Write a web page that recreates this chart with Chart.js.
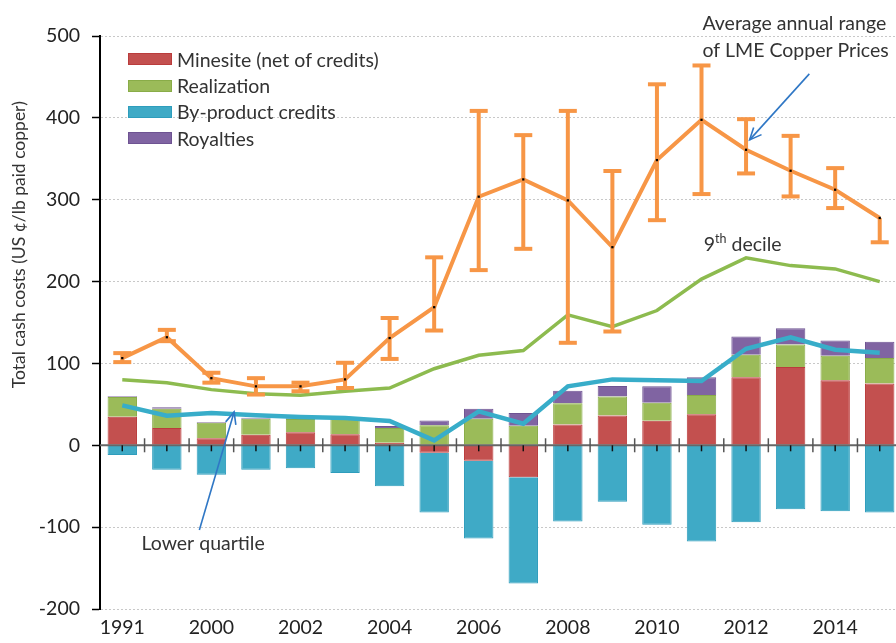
<!DOCTYPE html>
<html>
<head>
<meta charset="utf-8">
<script src="https://cdn.jsdelivr.net/npm/chart.js@4.4.1/dist/chart.umd.min.js"></script>
<style>
  html,body{margin:0;padding:0;background:#fff;overflow:hidden}
  #wrap{position:absolute;left:0;top:0;width:906px;height:643px}
  #legend{position:absolute;left:128px;top:46px;font:19.5px Lato, sans-serif;color:#333}
  #legend .row{height:26.4px;display:flex;align-items:center}
  #legend .box{display:inline-block;width:42px;height:10px;margin-right:5px;border:1px solid}
</style>
</head>
<body>
<div id="wrap"><canvas id="chart" width="906" height="643"></canvas></div>
<div id="legend"></div>
<script>
// categories (only every other one gets a label on the axis)
const years = ['1991','1995','2000','2001','2002','2003','2004','2005','2006','2007','2008','2009','2010','2011','2012','2013','2014','2015']

// stacked cost components, US c/lb
const minesite    = [35, 21, 8.5, 13, 16, 13.5, 3, -9, -19, -39, 25.5, 36.5, 30, 38, 83, 95.5, 79.5, 75.5]
const realization = [24, 23.5, 19, 19.5, 16, 19, 18, 24.5, 32.5, 24, 26, 23, 22, 23.5, 27.5, 27.5, 30, 31]
const byproduct   = [-12, -30, -36, -30, -28, -34, -50, -73, -95, -130, -93, -69, -97, -117.5, -94, -78, -80.5, -82]
const royalties   = [1, 2, 1, 1, 1, 0.8, 2.5, 5.7, 12, 15.5, 15, 13, 20, 21.5, 22.5, 20, 18.5, 20]

// cost curve lines
const lowerQuartile = [48.8, 36.2, 39.4, 36.6, 34.6, 33.4, 29.7, 6, 41.5, 26.4, 72, 80.5, 79.3, 78.5, 117.9, 132, 116.7, 113]
const ninthDecile   = [80, 76.4, 68, 63, 61, 66, 70, 93.5, 110, 115.8, 159.4, 145, 164.6, 203, 229, 219.5, 215.5, 200]

// LME copper price: annual average with range
const lmeAvg  = [106.5, 132, 82, 72, 72, 80.5, 131, 168.7, 303.7, 324.8, 299.2, 242, 348.4, 397.6, 361, 335.4, 312.2, 277.7]
const lmeHigh = [112.6, 141, 88.6, 82, 76.5, 100.8, 155.5, 229.6, 408.5, 378.9, 408.5, 335.1, 441, 464, 398.4, 378, 338.6, 277.7]
const lmeLow  = [101.6, 127.2, 76.5, 62, 66, 70, 105.5, 140.2, 214, 240, 125.2, 139, 275, 306.9, 332.1, 304, 289.8, 248]

// y axis
const yMin = -200, yMax = 500, yStep = 100

const FONT = 'Lato, sans-serif'
const orange = '#F79646'
const arrowBlue = '#2F77C5'

// notes, placed in data units (category index, value)
const notes = [
  {lines:['Average annual range','of LME Copper Prices'], x:13.02, y:[514.8, 481.8], arrow:{from:[15.42,453.7], to:[14.08,373.1]}},
  {sup:true, x:13.05, y:[244.7]},
  {lines:['Lower quartile'], x:0.43, y:[-120.5], arrow:{from:[1.73,-103.4], to:[2.51,40.7]}}
]

function drawArrow(ctx, x1, y1, x2, y2){
  ctx.beginPath(); ctx.moveTo(x1,y1); ctx.lineTo(x2,y2); ctx.stroke()
  const a = Math.atan2(y2-y1, x2-x1), len = 13, spread = 0.42
  ctx.beginPath()
  ctx.moveTo(x2 - len*Math.cos(a-spread), y2 - len*Math.sin(a-spread))
  ctx.lineTo(x2, y2)
  ctx.lineTo(x2 - len*Math.cos(a+spread), y2 - len*Math.sin(a+spread))
  ctx.stroke()
}

const extras = {
  id:'extras',
  // error bars go under the orange line and its markers
  beforeDatasetDraw(chart, args){
    if(args.index !== 0) return
    const {ctx, scales:{x,y}} = chart
    ctx.save()
    ctx.strokeStyle = orange
    ctx.lineWidth = 4
    lmeHigh.forEach((hi,i)=>{
      const px = x.getPixelForValue(i)
      const yh = y.getPixelForValue(hi), yl = y.getPixelForValue(lmeLow[i])
      ctx.beginPath(); ctx.moveTo(px, yh); ctx.lineTo(px, yl); ctx.stroke()
      const caps = hi > lmeAvg[i] ? [yh, yl] : [yl]
      caps.forEach(cy=>{ ctx.beginPath(); ctx.moveTo(px-9, cy); ctx.lineTo(px+9, cy); ctx.stroke() })
    })
    ctx.restore()
  },
  // zero line with its tick marks, over the bars
  afterDatasetDraw(chart, args){
    if(args.index !== 3) return
    const {ctx, chartArea, scales:{x,y}} = chart
    const y0 = y.getPixelForValue(0)
    const half = (x.getPixelForValue(1) - x.getPixelForValue(0)) / 2
    ctx.save()
    ctx.strokeStyle = '#666'; ctx.lineWidth = 2
    ctx.beginPath(); ctx.moveTo(chartArea.left, y0); ctx.lineTo(chartArea.right, y0); ctx.stroke()
    ctx.lineWidth = 1.5
    years.forEach((_,i)=>{
      const cx = x.getPixelForValue(i)
      ctx.strokeStyle = '#111'
      ctx.beginPath(); ctx.moveTo(cx, y0); ctx.lineTo(cx, y0+6); ctx.stroke()
      if(i < years.length-1){
        ctx.strokeStyle = '#555'
        ctx.beginPath(); ctx.moveTo(cx+half, y0-7); ctx.lineTo(cx+half, y0+7); ctx.stroke()
      }
    })
    ctx.restore()
  },
  afterDraw(chart){
    const {ctx, scales:{x,y}} = chart
    ctx.save()
    // y axis title
    ctx.fillStyle = '#333'
    ctx.font = '17.5px ' + FONT
    ctx.textAlign = 'center'; ctx.textBaseline = 'middle'
    ctx.translate(19, y.getPixelForValue(245))
    ctx.rotate(-Math.PI/2)
    ctx.fillText('Total cash costs (US \u00a2/lb paid copper)', 0, 0)
    ctx.restore()

    ctx.save()
    ctx.fillStyle = '#333'; ctx.textAlign = 'left'; ctx.textBaseline = 'middle'
    notes.forEach(n=>{
      const px = x.getPixelForValue(n.x)
      if(n.sup){
        const py = y.getPixelForValue(n.y[0])
        ctx.font = '19.5px ' + FONT
        ctx.fillText('9', px, py)
        const w9 = ctx.measureText('9').width
        ctx.font = '12.5px ' + FONT
        ctx.fillText('th', px + w9, py - 6)
        const wth = ctx.measureText('th').width
        ctx.font = '19.5px ' + FONT
        ctx.fillText(' decile', px + w9 + wth, py)
      } else {
        ctx.font = '19.5px ' + FONT
        n.lines.forEach((t,k)=> ctx.fillText(t, px, y.getPixelForValue(n.y[k])))
      }
      if(n.arrow){
        ctx.strokeStyle = arrowBlue; ctx.lineWidth = 1.6
        const a = n.arrow
        drawArrow(ctx, x.getPixelForValue(a.from[0]), y.getPixelForValue(a.from[1]),
                       x.getPixelForValue(a.to[0]), y.getPixelForValue(a.to[1]))
      }
    })
    ctx.restore()
  }
}

const barDs = (label, data, fill, border)=>({
  type:'bar', label, data, backgroundColor:fill, borderColor:border, borderWidth:1,
  categoryPercentage:1, barPercentage:0.66, stack:'costs'
})
const lineDs = (label, data, color, width, stack)=>({
  type:'line', label, data, borderColor:color, borderWidth:width, pointRadius:0,
  tension:0, stack, fill:false
})

const lmeLine = lineDs('LME Copper Prices', lmeAvg, orange, 4, 'lme')
lmeLine.pointRadius = 1.6
lmeLine.pointStyle = 'rect'
lmeLine.pointBackgroundColor = '#000'
lmeLine.pointBorderColor = '#000'
lmeLine.pointBorderWidth = 0

const chart = new Chart(document.getElementById('chart'), {
  data:{
    labels: years,
    datasets:[
      lmeLine,
      lineDs('9th decile', ninthDecile, '#8DBB4F', 3.5, 'd9'),
      lineDs('Lower quartile', lowerQuartile, '#38ADC9', 4.5, 'lq'),
      barDs('Minesite (net of credits)', minesite, '#C3504F', '#BA3C3C'),
      barDs('Realization', realization, '#9BBB59', '#89AC48'),
      barDs('By-product credits', byproduct, '#3FAAC6', '#2E9DBC'),
      barDs('Royalties', royalties, '#8064A2', '#6E5392')
    ]
  },
  options:{
    responsive:false,
    animation:false,
    layout:{padding:{left:0, right:3, top:36, bottom:0}},
    plugins:{legend:{display:false}, tooltip:{enabled:false}},
    scales:{
      x:{
        type:'category', offset:true, stacked:true,
        grid:{display:false, drawTicks:false},
        border:{display:false},
        ticks:{autoSkip:false, maxRotation:0, padding:7, color:'#222', font:{family:FONT, size:19.5},
          callback:(v,i)=> i % 2 === 0 ? years[i] : ''},
        afterFit:s=>{ s.height = 34 }
      },
      y:{
        stacked:true, min:yMin, max:yMax,
        ticks:{stepSize:yStep, padding:12, color:'#222', font:{family:FONT, size:19.5}},
        grid:{
          color:c=> c.tick && c.tick.value === 0 ? 'rgba(0,0,0,0)' : '#c8c8c8',
          lineWidth:1, tickLength:8, tickColor:'#000', tickWidth:1.5
        },
        border:{display:true, color:'#000', width:2, dash:[2,2]},
        afterFit:s=>{ s.width = 100 }
      }
    }
  },
  plugins:[extras]
})

// legend in the top left of the plot, built from the bar series
const legend = document.getElementById('legend')
chart.data.datasets.filter(d=>d.type === 'bar').forEach(d=>{
  const row = document.createElement('div')
  row.className = 'row'
  row.innerHTML = `<span class="box" style="background:${d.backgroundColor};border-color:${d.borderColor}"></span><span>${d.label}</span>`
  legend.appendChild(row)
})
</script>
</body>
</html>
